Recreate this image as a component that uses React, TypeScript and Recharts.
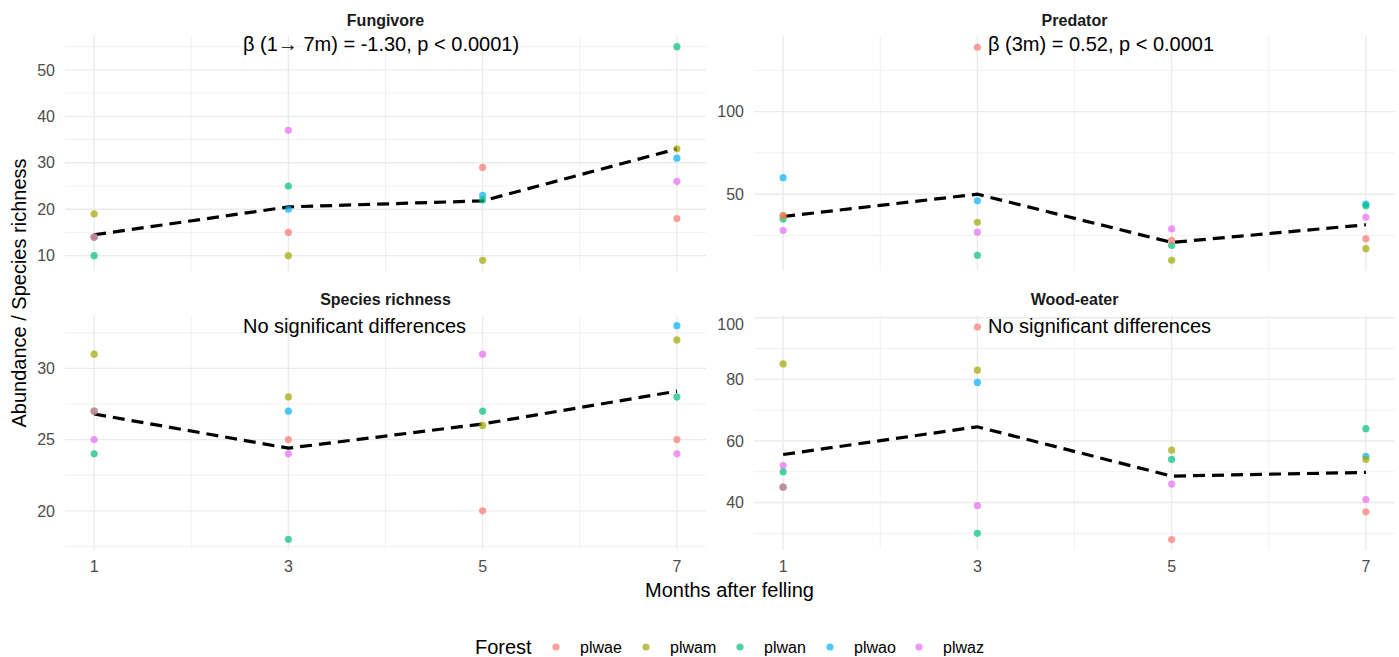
import React from 'react';
import { ComposedChart, Scatter, Line, XAxis, YAxis, ReferenceLine } from 'recharts';

const months = [1, 3, 5, 7];
const monthMinor = [2, 4, 6];
const forests = ['plwae', 'plwam', 'plwan', 'plwao', 'plwaz'];
const forestColors = ['#F8766D', '#A3A500', '#00BF7D', '#00B0F6', '#E76BF3'];

// Fungivore (null = point hidden under another one)
const fungPlwae = [14, 15, 29, 18];
const fungPlwam = [19, 10, 9, 33];
const fungPlwan = [10, 25, 22, 55];
const fungPlwao = [14, 20, 23, 31];
const fungPlwaz = [14, 37, null, 26];
const fungTrend = [14.5, 20.5, 21.8, 33.0];

// Predator
const predPlwae = [37, 139, 22, 23];
const predPlwam = [37, 33, 10, 17];
const predPlwan = [35, 13, 19, 43];
const predPlwao = [60, 46, null, 44];
const predPlwaz = [28, 27, 29, 36];
const predTrend = [36.5, 50, 20.8, 31.5];

// Species richness
const richPlwae = [27, 25, 20, 25];
const richPlwam = [31, 28, 26, 32];
const richPlwan = [24, 18, 27, 28];
const richPlwao = [27, 27, null, 33];
const richPlwaz = [25, 24, 31, 24];
const richTrend = [26.8, 24.4, 26.1, 28.4];

// Wood-eater
const woodPlwae = [45, 97, 28, 37];
const woodPlwam = [85, 83, 57, 54];
const woodPlwan = [50, 30, 54, 64];
const woodPlwao = [45, 79, null, 55];
const woodPlwaz = [52, 39, 46, 41];
const woodTrend = [55.6, 64.6, 48.6, 49.8];

const FONT = '"Liberation Sans", Arial, sans-serif';
const GRID = '#ebebeb';

const toPoints = (vals: (number | null)[]) =>
  months.map((m, i) => ({ month: m, value: vals[i] })).filter(p => p.value != null);

interface PanelProps {
  left: number;
  top: number;
  width: number;
  axisWidth: number;
  showX: boolean;
  domain: [number, number];
  majors: number[];
  minors: number[];
  series: (number | null)[][];
  trend: number[];
}

const Panel: React.FC<PanelProps> = ({ left, top, width, axisWidth, showX, domain, majors, minors, series, trend }) => {
  const plotH = 235;
  const height = showX ? plotH + 30 : plotH;
  // draw last forest first so plwae ends on top
  const order = [4, 3, 2, 1, 0];
  return (
    <div style={{ position: 'absolute', left, top }}>
      <ComposedChart width={width} height={height} margin={{ top: 0, right: 0, bottom: 0, left: 0 }}>
        {minors.map(v => (
          <ReferenceLine key={`ym${v}`} y={v} stroke={GRID} strokeWidth={0.7} />
        ))}
        {monthMinor.map(v => (
          <ReferenceLine key={`xm${v}`} x={v} stroke={GRID} strokeWidth={0.7} />
        ))}
        {majors.map(v => (
          <ReferenceLine key={`y${v}`} y={v} stroke={GRID} strokeWidth={1.4} />
        ))}
        {months.map(v => (
          <ReferenceLine key={`x${v}`} x={v} stroke={GRID} strokeWidth={1.4} />
        ))}
        <XAxis
          dataKey="month"
          type="number"
          domain={[0.7, 7.3]}
          allowDataOverflow
          ticks={months}
          hide={!showX}
          height={30}
          axisLine={false}
          tickLine={false}
          tickSize={0}
          tickMargin={11}
          tick={{ fill: '#4d4d4d', fontSize: 16, fontFamily: FONT }}
        />
        <YAxis
          type="number"
          domain={domain}
          allowDataOverflow
          ticks={majors}
          width={axisWidth}
          axisLine={false}
          tickLine={false}
          tickSize={0}
          tickMargin={10}
          tick={{ fill: '#4d4d4d', fontSize: 16, fontFamily: FONT }}
        />
        {order.map(i => (
          <Scatter
            key={forests[i]}
            name={forests[i]}
            data={toPoints(series[i])}
            dataKey="value"
            isAnimationActive={false}
            shape={(p: any) => <circle cx={p.cx} cy={p.cy} r={3.6} fill={forestColors[i]} fillOpacity={0.7} />}
          />
        ))}
        <Line
          data={toPoints(trend)}
          dataKey="value"
          type="linear"
          stroke="#000"
          strokeWidth={3.2}
          strokeDasharray="12 7"
          dot={false}
          isAnimationActive={false}
        />
      </ComposedChart>
    </div>
  );
};

const App: React.FC = () => {
  const titleStyle = { fontFamily: FONT, fontSize: 16, fontWeight: 700, fill: '#1a1a1a' };
  const noteStyle = { fontFamily: FONT, fontSize: 20, fill: '#000' };
  const legendX = [556, 646, 740, 830, 919];
  return (
    <div style={{ position: 'absolute', left: 0, top: 0, width: 1399, height: 657, background: '#fff', overflow: 'hidden' }}>
      <Panel left={0} top={36} width={706} axisWidth={65} showX={false} domain={[6.7, 57.3]}
        majors={[10, 20, 30, 40, 50]} minors={[15, 25, 35, 45, 55]}
        series={[fungPlwae, fungPlwam, fungPlwan, fungPlwao, fungPlwaz]} trend={fungTrend} />
      <Panel left={690} top={36} width={705} axisWidth={64} showX={false} domain={[3.5, 145.8]}
        majors={[50, 100]} minors={[25, 75, 125]}
        series={[predPlwae, predPlwam, predPlwan, predPlwao, predPlwaz]} trend={predTrend} />
      <Panel left={0} top={315} width={706} axisWidth={65} showX={true} domain={[17.25, 33.75]}
        majors={[20, 25, 30]} minors={[17.5, 22.5, 27.5, 32.5]}
        series={[richPlwae, richPlwam, richPlwan, richPlwao, richPlwaz]} trend={richTrend} />
      <Panel left={690} top={315} width={705} axisWidth={64} showX={true} domain={[24.6, 100.9]}
        majors={[40, 60, 80, 100]} minors={[30, 50, 70, 90]}
        series={[woodPlwae, woodPlwam, woodPlwan, woodPlwao, woodPlwaz]} trend={woodTrend} />

      <svg width={1399} height={657} style={{ position: 'absolute', left: 0, top: 0, pointerEvents: 'none' }}>
        <text x={385.5} y={26} textAnchor="middle" style={titleStyle}>Fungivore</text>
        <text x={1074.5} y={26} textAnchor="middle" style={titleStyle}>Predator</text>
        <text x={385.5} y={305} textAnchor="middle" style={titleStyle}>Species richness</text>
        <text x={1074.5} y={305} textAnchor="middle" style={titleStyle}>Wood-eater</text>

        <text x={243} y={51} style={noteStyle}>β (1→ 7m) = -1.30, p &lt; 0.0001)</text>
        <text x={988} y={51} style={noteStyle}>β (3m) = 0.52, p &lt; 0.0001</text>
        <text x={243} y={333} style={noteStyle}>No significant differences</text>
        <text x={988} y={333} style={noteStyle}>No significant differences</text>

        <text x={729.5} y={597} textAnchor="middle" style={noteStyle}>Months after felling</text>
        <text transform="translate(26,293) rotate(-90)" textAnchor="middle" style={noteStyle}>Abundance / Species richness</text>

        <text x={475} y={654} style={noteStyle}>Forest</text>
        {forests.map((f, i) => (
          <g key={f}>
            <circle cx={legendX[i]} cy={647} r={3.6} fill={forestColors[i]} fillOpacity={0.7} />
            <text x={legendX[i] + 24} y={652.5} style={{ fontFamily: FONT, fontSize: 16, fill: '#000' }}>{f}</text>
          </g>
        ))}
      </svg>
    </div>
  );
};

export default App;
